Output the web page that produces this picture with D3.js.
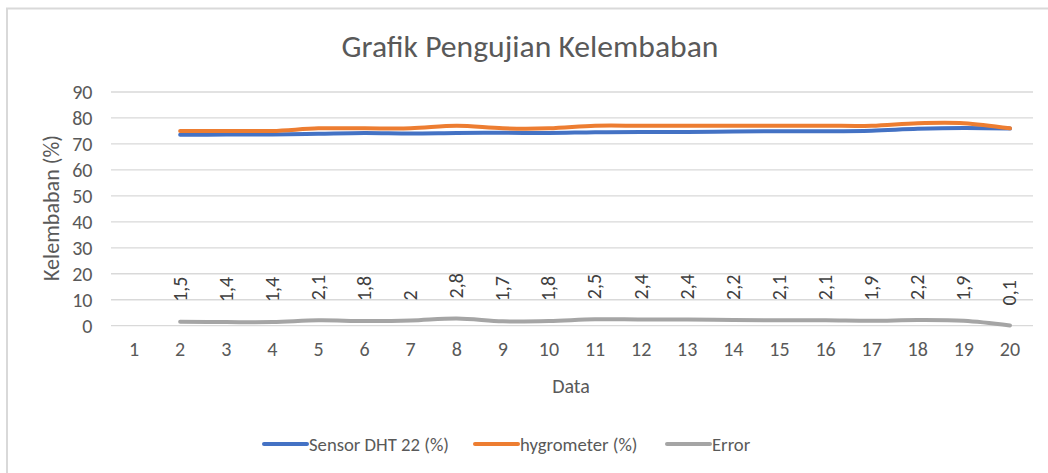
<!DOCTYPE html>
<html><head><meta charset="utf-8">
<script src="https://cdn.jsdelivr.net/npm/d3@7"></script>
<style>body{margin:0;background:#fff}svg{display:block}text{font-family:Carlito,"Liberation Sans",Arial,sans-serif}</style>
</head><body><svg id="c" width="1048" height="473"></svg>
<script>
const categories = ["1","2","3","4","5","6","7","8","9","10","11","12","13","14","15","16","17","18","19","20"];
const sensorDHT22 = [null,73.5,73.6,73.6,73.9,74.2,74,74.2,74.3,74.2,74.5,74.6,74.6,74.8,74.9,74.9,75.1,75.8,76.1,75.9];
const hygrometer = [null,75,75,75,76,76,76,77,76,76,77,77,77,77,77,77,77,78,78,76];
const errorVals = [null,1.5,1.4,1.4,2.1,1.8,2,2.8,1.7,1.8,2.5,2.4,2.4,2.2,2.1,2.1,1.9,2.2,1.9,0.1];
const errorLabels = [null,"1,5","1,4","1,4","2,1","1,8","2","2,8","1,7","1,8","2,5","2,4","2,4","2,2","2,1","2,1","1,9","2,2","1,9","0,1"];
const yTicks = [0,10,20,30,40,50,60,70,80,90];
const seriesNames = ["Sensor DHT 22 (%)","hygrometer (%)","Error"];
const seriesColors = ["#4472c4","#ed7d31","#a5a5a5"];

const svg = d3.select("#c");
const txt = "#595959";
// fit a text element's font size so its length matches a target width
function fit(sel, target){
  sel.style("font-size","20px");
  const w = sel.node().getComputedTextLength();
  sel.style("font-size", (20*target/w).toFixed(2)+"px");
  return 20*target/w;
}
// chart border
svg.append("rect").attr("x",7).attr("y",8.5).attr("width",1060).attr("height",480)
  .attr("fill","none").attr("stroke","#d9d9d9").attr("stroke-width",2);

const x = d3.scaleBand().domain(categories).range([111,1033]);
const y = d3.scaleLinear().domain([0,90]).range([325.7,92]);
const cx = c => x(c) + x.bandwidth()/2;

// gridlines
svg.append("g").selectAll("line").data(yTicks).join("line")
  .attr("x1",111).attr("x2",1033).attr("y1",d=>y(d)).attr("y2",d=>y(d))
  .attr("stroke","#d9d9d9").attr("stroke-width",1.3);

// y axis
const yAxis = svg.append("g").attr("transform","translate(111,0)")
  .call(d3.axisLeft(y).tickValues(yTicks).tickSize(0).tickPadding(18.5));
yAxis.select(".domain").remove();
yAxis.selectAll("text").attr("fill",txt).style("font-size","20px").attr("font-family",null).attr("dy","0.33em");

// x axis
const xAxis = svg.append("g").attr("transform","translate(0,356)")
  .call(d3.axisBottom(x).tickSize(0).tickPadding(0));
xAxis.select(".domain").remove();
xAxis.selectAll("text").attr("fill",txt).style("font-size","20px").attr("font-family",null).attr("dy","0");

// titles
const title = svg.append("text").attr("x",530).attr("y",57).attr("text-anchor","middle")
  .attr("fill",txt).text("Grafik Pengujian Kelembaban");
fit(title, 377);
svg.append("text").attr("x",571).attr("y",392.5).attr("text-anchor","middle")
  .attr("fill",txt).style("font-size","20px").text("Data");
const yt = svg.append("text").attr("transform","translate(59,208) rotate(-90)").attr("text-anchor","middle")
  .attr("fill",txt).text("Kelembaban (%)");
fit(yt, 146);

const line = d3.line().defined(d=>d.v!=null).x(d=>cx(d.c)).y(d=>y(d.v)).curve(d3.curveCatmullRom.alpha(0.5));
[sensorDHT22,hygrometer,errorVals].forEach((arr,i)=>{
  const data = categories.map((c,j)=>({c,v:arr[j]}));
  svg.append("path").datum(data).attr("d",line).attr("fill","none")
    .attr("stroke",seriesColors[i]).attr("stroke-width",4).attr("stroke-linecap","round");
});

// data labels for error
svg.append("g").selectAll("text").data(categories.map((c,j)=>({c,v:errorVals[j],l:errorLabels[j]})).filter(d=>d.v!=null))
  .join("text")
  .attr("transform",d=>`translate(${cx(d.c)},${y(d.v)-20}) rotate(-90)`)
  .attr("dy","0.32em").attr("fill","#404040").style("font-size","20px").text(d=>d.l);

// legend
const legX = [264,475,667];
const legT = [];
seriesNames.forEach((n,i)=>{
  svg.append("line").attr("x1",legX[i]).attr("x2",legX[i]+43).attr("y1",444).attr("y2",444)
    .attr("stroke",seriesColors[i]).attr("stroke-width",4).attr("stroke-linecap","round");
  legT.push(svg.append("text").attr("x",legX[i]+45).attr("y",450.5)
    .attr("fill",txt).text(n));
});
const ls = fit(legT[0],140);
legT.forEach(t=>t.style("font-size",ls.toFixed(2)+"px"));
</script></body></html>
